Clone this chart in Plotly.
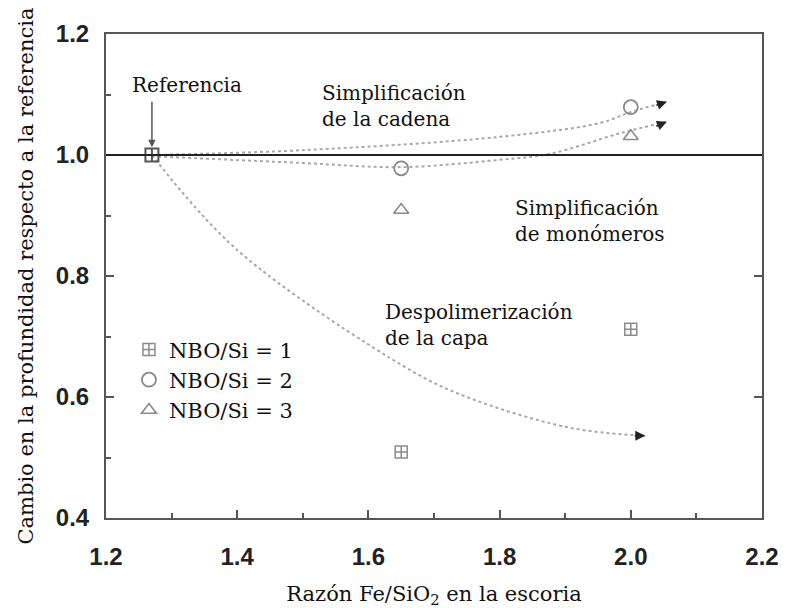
import plotly.graph_objects as go

# Data
ref_x = [1.27]
ref_y = [1.0]
nbo1_x = [1.65, 2.0]
nbo1_y = [0.509, 0.712]
nbo2_x = [1.65, 2.0]
nbo2_y = [0.978, 1.079]
nbo3_x = [1.65, 2.0]
nbo3_y = [0.909, 1.031]

# Guide curves (trend sketches)
curve_dep_x = [1.27, 1.40, 1.663, 1.75, 1.903, 2.003, 2.022]
curve_dep_y = [1.0, 0.843, 0.645, 0.600, 0.550, 0.537, 0.536]
curve_up_x = [1.27, 1.50, 1.80, 1.953, 2.0, 2.055]
curve_up_y = [1.0, 1.008, 1.030, 1.053, 1.071, 1.088]
curve_lo_x = [1.27, 1.496, 1.65, 1.80, 1.877, 1.984, 2.055]
curve_lo_y = [0.998, 0.987, 0.980, 0.992, 1.002, 1.036, 1.055]

serif = "DejaVu Serif"
sans = "Liberation Sans"
gray = "#8a8a8a"
curve_col = "#a8a8a8"

fig = go.Figure()

for cx, cy in [(curve_dep_x, curve_dep_y), (curve_up_x, curve_up_y), (curve_lo_x, curve_lo_y)]:
    fig.add_trace(go.Scatter(x=cx, y=cy, mode="lines", line=dict(color=curve_col, width=2, dash="dot", shape="spline"),
                             showlegend=False, hoverinfo="skip"))

fig.add_hline(y=1.0, line=dict(color="#222", width=2))

fig.add_trace(go.Scatter(x=nbo1_x, y=nbo1_y, mode="markers", name="NBO/Si = 1",
                         marker=dict(symbol="square-cross-open", size=12, color=gray, line=dict(width=1.5, color=gray))))
fig.add_trace(go.Scatter(x=nbo2_x, y=nbo2_y, mode="markers", name="NBO/Si = 2",
                         marker=dict(symbol="circle-open", size=14, color=gray, line=dict(width=1.8, color=gray))))
fig.add_trace(go.Scatter(x=nbo3_x, y=nbo3_y, mode="markers", name="NBO/Si = 3",
                         marker=dict(symbol="triangle-up-open", size=13, color=gray, line=dict(width=1.6, color=gray))))
fig.add_trace(go.Scatter(x=ref_x, y=ref_y, mode="markers", showlegend=False,
                         marker=dict(symbol="square-cross-open", size=13, color="#555", line=dict(width=2, color="#555"))))

# arrowheads at curve ends (short stub so only the head shows)
for cx, cy, dy in [(curve_dep_x, curve_dep_y, 0), (curve_up_x, curve_up_y, 4), (curve_lo_x, curve_lo_y, 5)]:
    fig.add_annotation(x=cx[-1], y=cy[-1], ax=-12, ay=dy, xref="x", yref="y",
                       text="", showarrow=True, arrowhead=2, arrowsize=1.1, arrowwidth=1.8, arrowcolor="#222")

# Referencia arrow
fig.add_annotation(x=1.27, y=1.013, ax=0, ay=-47, text="", showarrow=True, arrowhead=2,
                   arrowsize=1, arrowwidth=1.5, arrowcolor="#555")

texts = [
    ("Referencia", 1.323, 1.116, "center"),
    ("Simplificación<br>de la cadena", 1.526, 1.081, "left"),
    ("Simplificación<br>de monómeros", 1.820, 0.891, "left"),
    ("Despolimerización<br>de la capa", 1.622, 0.719, "left"),
]
for t, x, y, al in texts:
    fig.add_annotation(x=x, y=y, xref="x", yref="y", text=t, showarrow=False, align="left",
                       xanchor=al, yanchor="middle", font=dict(family=serif, size=20, color="#111"))

xt = [1.2, 1.4, 1.6, 1.8, 2.0, 2.2]
yt = [0.4, 0.6, 0.8, 1.0, 1.2]

fig.update_layout(
    width=785, height=608,
    margin=dict(l=106, r=23, t=34, b=90),
    plot_bgcolor="white", paper_bgcolor="white",
    font=dict(family=serif),
    legend=dict(x=0.035, y=0.39, xanchor="left", yanchor="top", bgcolor="rgba(0,0,0,0)",
                font=dict(family=serif, size=21, color="#111"), tracegroupgap=0, itemwidth=30),
    xaxis=dict(title=dict(text="Razón Fe/SiO<sub>2</sub> en la escoria", font=dict(family=serif, size=21, color="#111"), standoff=26),
               range=[1.2, 2.2], tickvals=xt, ticktext=["%.1f" % v for v in xt], automargin=False,
               ticks="inside", ticklen=8, tickwidth=2, tickcolor="#555", ticklabelstandoff=16,
               minor=dict(dtick=0.1, ticks="inside", ticklen=5, tickwidth=1.5, tickcolor="#555"),
               showline=True, linecolor="#555", linewidth=2, mirror=True, showgrid=False, zeroline=False,
               tickfont=dict(family=sans, size=24, color="#222", weight="bold")),
    yaxis=dict(title=dict(text="Cambio en la profundidad respecto a la referencia", font=dict(family=serif, size=21, color="#111"), standoff=16),
               range=[0.4, 1.2], tickvals=yt, ticktext=["%.1f" % v for v in yt], automargin=False,
               ticks="inside", ticklen=8, tickwidth=2, tickcolor="#555", ticklabelstandoff=10,
               minor=dict(dtick=0.1, ticks="inside", ticklen=5, tickwidth=1.5, tickcolor="#555"),
               showline=True, linecolor="#555", linewidth=2, mirror=True, showgrid=False, zeroline=False,
               tickfont=dict(family=sans, size=24, color="#222", weight="bold")),
    yaxis2=dict(overlaying="y", side="right", range=[0.4, 1.2], tickvals=[0.6, 0.8, 1.0], showticklabels=False,
                automargin=False,
                ticks="inside", ticklen=8, tickwidth=2, tickcolor="#555", showgrid=False, zeroline=False, showline=False),
)
fig.add_trace(go.Scatter(x=[None], y=[None], yaxis="y2", showlegend=False, hoverinfo="skip"))

fig.write_html("out.html")
